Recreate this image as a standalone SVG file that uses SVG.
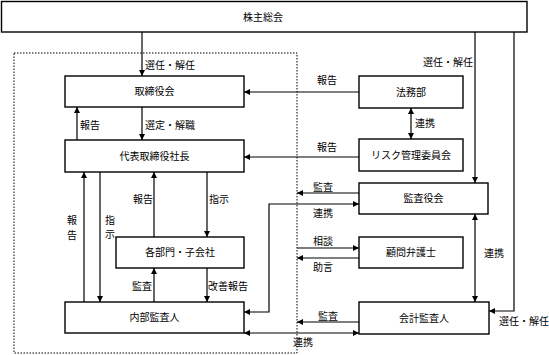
<svg xmlns="http://www.w3.org/2000/svg" width="549" height="355" viewBox="0 0 549 355">
<defs>
<marker id="ah" markerUnits="userSpaceOnUse" markerWidth="7" markerHeight="6" refX="6" refY="3" orient="auto-start-reverse">
<path d="M0,0 L6,3 L0,6 z" fill="#000"/>
</marker>
<style>
.box{fill:#fff;stroke:#000;stroke-width:1.4}
.ln{fill:none;stroke:#000;stroke-width:1.2}
.dot{fill:none;stroke:#000;stroke-width:1;stroke-dasharray:1.5 1.5}
text{font-family:"Noto Sans CJK JP","Liberation Serif",serif;font-size:10px;fill:#000;text-anchor:middle}
</style>
</defs>
<rect width="549" height="355" fill="#fff"/>
<rect class="dot" x="14" y="53" width="283" height="300"/>

<g id="connectors">
<line class="ln" x1="142" y1="32" x2="142" y2="76" marker-end="url(#ah)"/>
<line class="ln" x1="475" y1="32" x2="475" y2="183" marker-end="url(#ah)"/>
<polyline class="ln" points="514,32 514,311 489,311" marker-end="url(#ah)"/>
<line class="ln" x1="359" y1="92" x2="244" y2="92" marker-end="url(#ah)"/>
<line class="ln" x1="359" y1="157" x2="244" y2="157" marker-end="url(#ah)"/>
<line class="ln" x1="411" y1="108" x2="411" y2="139" marker-start="url(#ah)" marker-end="url(#ah)"/>
<line class="ln" x1="77" y1="140" x2="77" y2="107" marker-end="url(#ah)"/>
<line class="ln" x1="142" y1="107" x2="142" y2="140" marker-end="url(#ah)"/>
<line class="ln" x1="84" y1="302" x2="84" y2="172" marker-end="url(#ah)"/>
<line class="ln" x1="100" y1="172" x2="100" y2="302" marker-end="url(#ah)"/>
<line class="ln" x1="154" y1="237" x2="154" y2="172" marker-end="url(#ah)"/>
<line class="ln" x1="207" y1="172" x2="207" y2="237" marker-end="url(#ah)"/>
<line class="ln" x1="154" y1="302" x2="154" y2="268" marker-end="url(#ah)"/>
<line class="ln" x1="207" y1="268" x2="207" y2="302" marker-end="url(#ah)"/>
<line class="ln" x1="359" y1="193" x2="297" y2="193" marker-end="url(#ah)"/>
<polyline class="ln" points="244,312 269,312 269,204 359,204" marker-start="url(#ah)" marker-end="url(#ah)"/>
<line class="ln" x1="297" y1="248" x2="359" y2="248" marker-end="url(#ah)"/>
<line class="ln" x1="359" y1="258" x2="297" y2="258" marker-end="url(#ah)"/>
<line class="ln" x1="475" y1="214" x2="475" y2="302" marker-start="url(#ah)" marker-end="url(#ah)"/>
<line class="ln" x1="359" y1="322" x2="297" y2="322" marker-end="url(#ah)"/>
<line class="ln" x1="244" y1="333" x2="359" y2="333" marker-start="url(#ah)" marker-end="url(#ah)"/>
</g>

<g id="labels">
<text x="170" y="68.5">選任・解任</text>
<text x="448" y="65.5">選任・解任</text>
<text x="524" y="324.5">選任・解任</text>
<text x="327" y="83.5">報告</text>
<text x="327" y="150.5">報告</text>
<text x="425" y="126.5">連携</text>
<text x="90" y="128.5">報告</text>
<text x="170" y="128.5">選定・解職</text>
<text x="143" y="202.5">報告</text>
<text x="219" y="202.5">指示</text>
<text x="72" y="223.5">報</text>
<text x="72" y="238.5">告</text>
<text x="110" y="223.5">指</text>
<text x="110" y="237.5">示</text>
<text x="323" y="190.5">監査</text>
<text x="323" y="216.5">連携</text>
<text x="323" y="244.5">相談</text>
<text x="323" y="270.5">助言</text>
<text x="494" y="256.5">連携</text>
<text x="142" y="289.5">監査</text>
<text x="228" y="289.5">改善報告</text>
<text x="328" y="319.5">監査</text>
<text x="303" y="345.5">連携</text>
</g>

<g id="n-kabunushi"><rect class="box" x="1.5" y="1.5" width="525.5" height="30.5"/><text x="263" y="20.5">株主総会</text></g>
<g id="n-torishimariyakukai"><rect class="box" x="65" y="76" width="179" height="31"/><text x="154.5" y="95">取締役会</text></g>
<g id="n-houmubu"><rect class="box" x="359" y="76" width="104" height="32"/><text x="411" y="95.5">法務部</text></g>
<g id="n-daihyo"><rect class="box" x="65" y="140" width="179" height="32"/><text x="154.5" y="159.5">代表取締役社長</text></g>
<g id="n-risk"><rect class="box" x="359" y="139" width="104" height="32"/><text x="411" y="158.5">リスク管理委員会</text></g>
<g id="n-kansayakukai"><rect class="box" x="359" y="183" width="129" height="31"/><text x="423.5" y="202">監査役会</text></g>
<g id="n-komon"><rect class="box" x="359" y="237" width="104" height="31"/><text x="411" y="256">顧問弁護士</text></g>
<g id="n-kakubumon"><rect class="box" x="116" y="237" width="128" height="31"/><text x="180" y="256">各部門・子会社</text></g>
<g id="n-naibu"><rect class="box" x="65" y="302" width="179" height="31"/><text x="154.5" y="321">内部監査人</text></g>
<g id="n-kaikei"><rect class="box" x="359" y="302" width="130" height="32"/><text x="424" y="321.5">会計監査人</text></g>
</svg>
